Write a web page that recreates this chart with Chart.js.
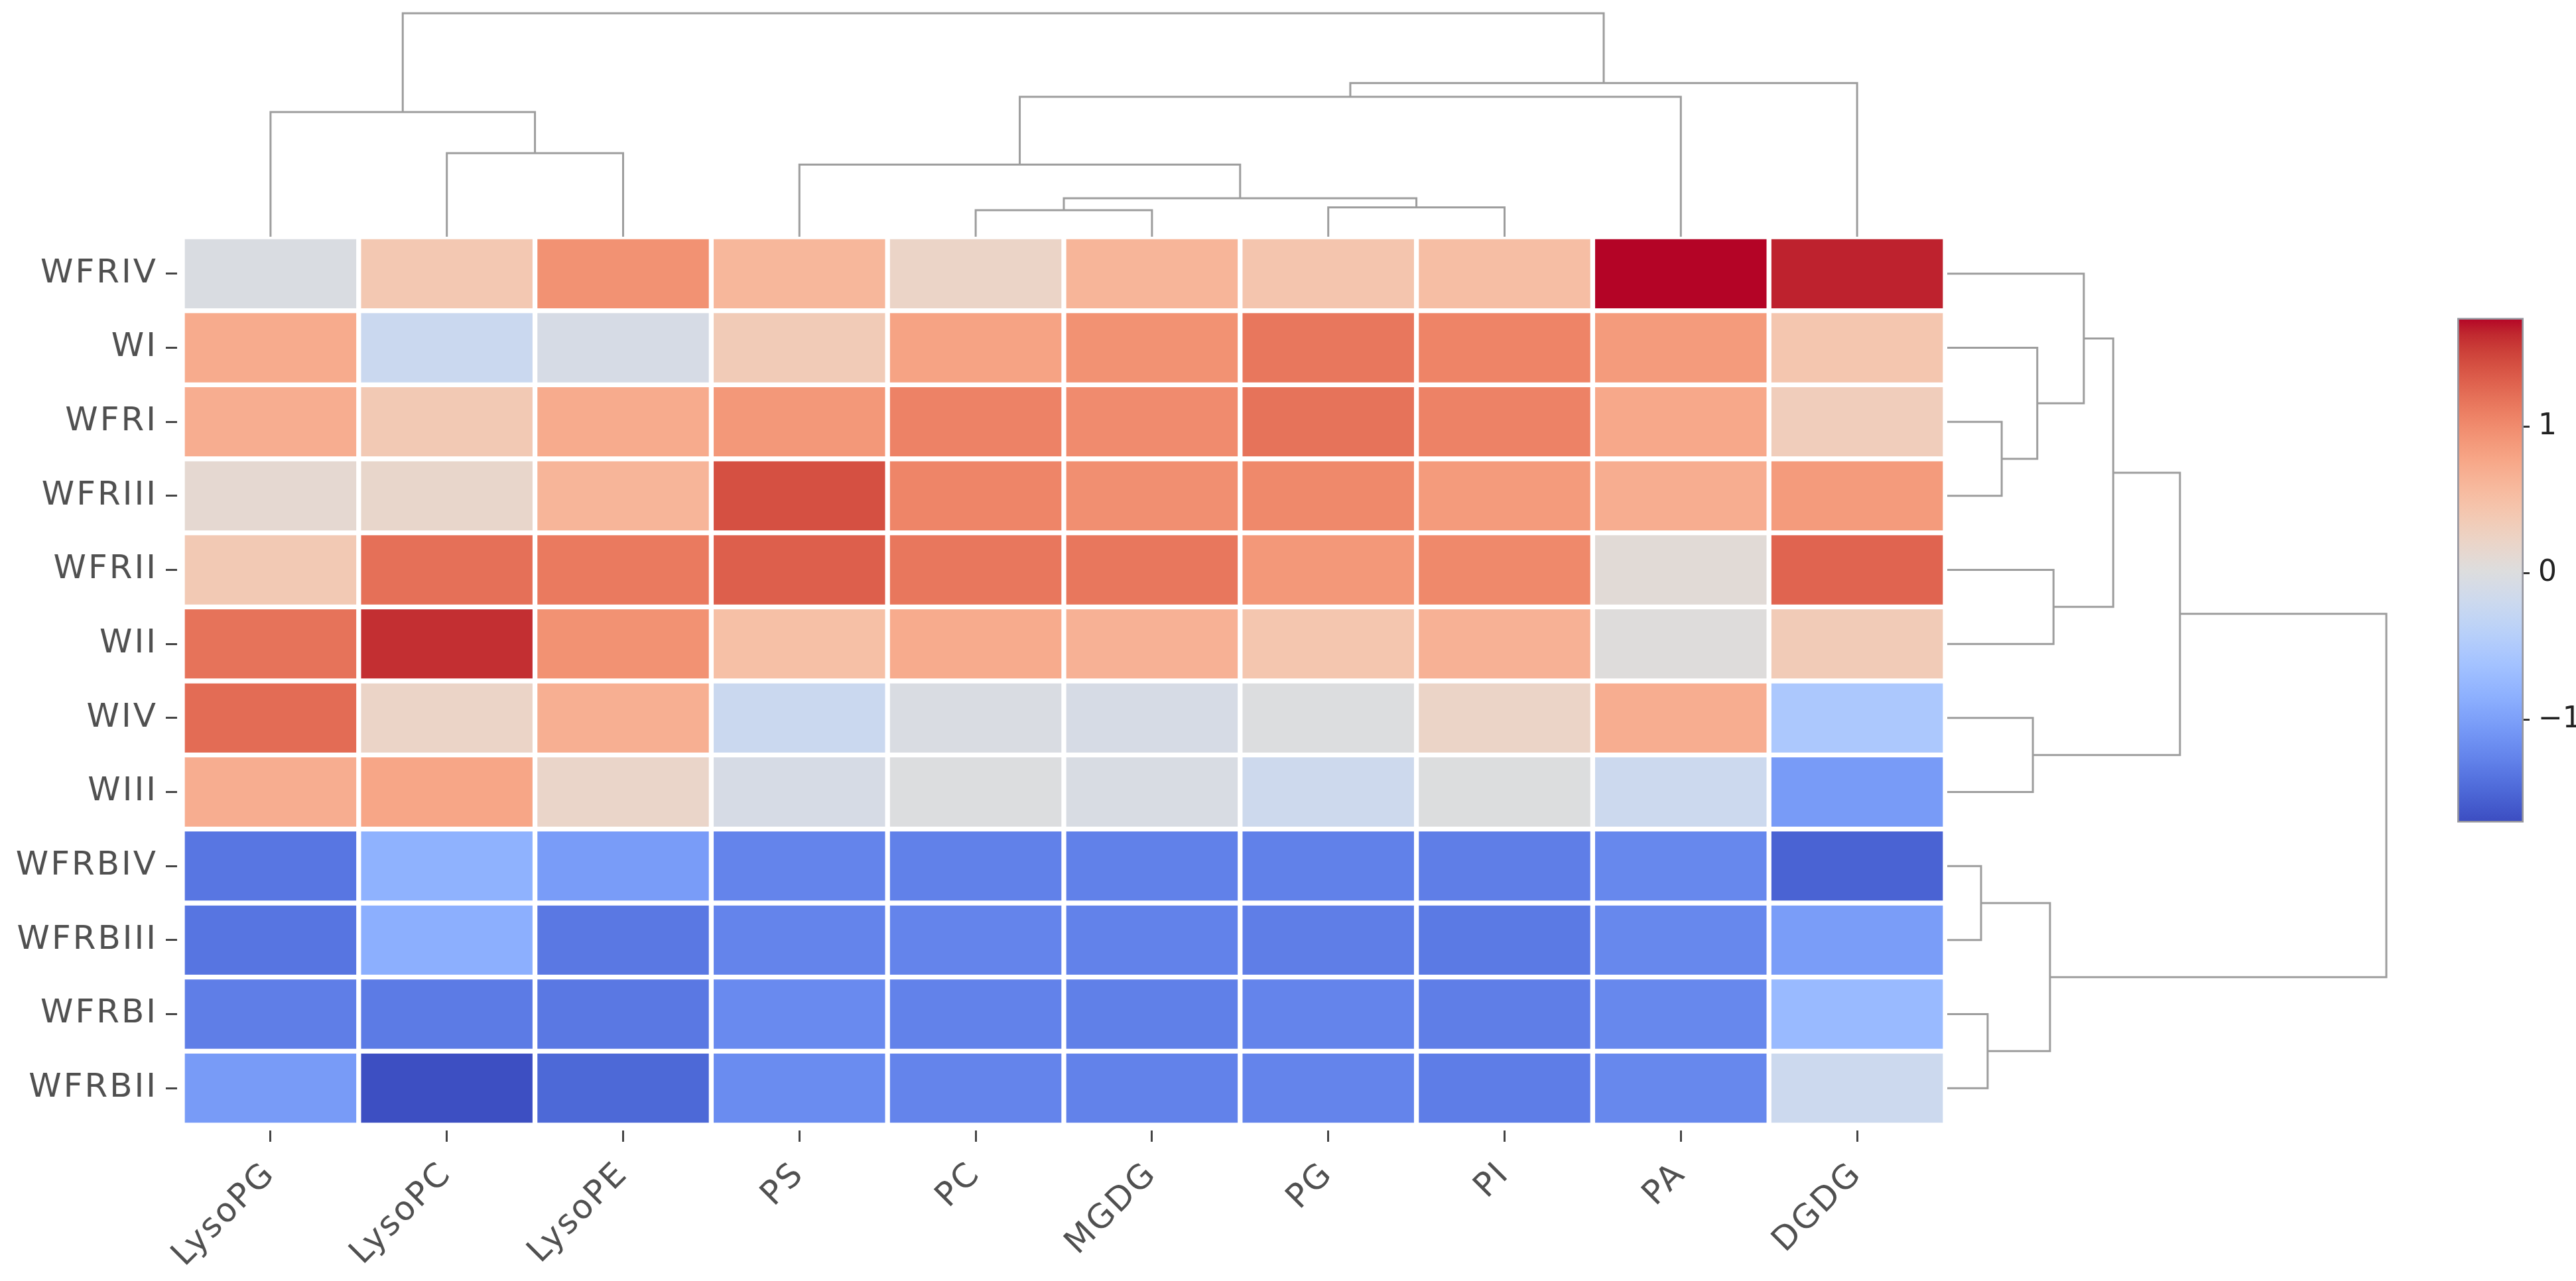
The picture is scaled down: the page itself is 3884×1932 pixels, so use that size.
<!DOCTYPE html>
<html>
<head>
<meta charset="utf-8">
<script src="https://cdn.jsdelivr.net/npm/chart.js@4.4.6/dist/chart.umd.min.js"></script>
<style>
  html, body { margin: 0; padding: 0; background: #fff; }
  body { width: 3884px; height: 1932px; position: relative; overflow: hidden; }
  .box { position: absolute; }
</style>
</head>
<body>
<div class="box" style="left:0;top:0;width:2933px;height:1932px"><canvas id="heat"></canvas></div>
<div class="box" style="left:275px;top:0;width:2658px;height:357px"><canvas id="colDendro"></canvas></div>
<div class="box" style="left:2936px;top:357px;width:948px;height:1340px"><canvas id="rowDendro"></canvas></div>
<div class="box" style="left:3705px;top:440px;width:179px;height:840px"><canvas id="colorbar"></canvas></div>
<script>
// Clustered heatmap: cells are floating bars, dendrograms are scatter lines,
// the colour bar is one floating bar with a gradient fill.

const columns = ['LysoPG', 'LysoPC', 'LysoPE', 'PS', 'PC', 'MGDG', 'PG', 'PI', 'PA', 'DGDG'];
const rows = ['WFRIV', 'WI', 'WFRI', 'WFRIII', 'WFRII', 'WII', 'WIV', 'WIII', 'WFRBIV', 'WFRBIII', 'WFRBI', 'WFRBII'];

// z-scores per row, in column order
const zWFRIV   = [-0.03, 0.40, 0.95, 0.60, 0.22, 0.62, 0.43, 0.52, 1.74, 1.65];
const zWI      = [0.72, -0.22, -0.07, 0.35, 0.80, 0.95, 1.15, 1.06, 0.87, 0.42];
const zWFRI    = [0.70, 0.38, 0.72, 0.90, 1.07, 1.00, 1.18, 1.07, 0.75, 0.32];
const zWFRIII  = [0.13, 0.18, 0.62, 1.42, 1.05, 0.97, 1.02, 0.87, 0.70, 0.87];
const zWFRII   = [0.38, 1.20, 1.13, 1.32, 1.15, 1.15, 0.90, 1.02, 0.08, 1.28];
const zWII     = [1.18, 1.60, 0.95, 0.50, 0.72, 0.66, 0.42, 0.66, 0.04, 0.35];
const zWIV     = [1.23, 0.22, 0.68, -0.22, -0.04, -0.07, 0.00, 0.22, 0.70, -0.54];
const zWIII    = [0.70, 0.77, 0.20, -0.07, 0.00, -0.05, -0.18, 0.01, -0.20, -1.05];
const zWFRBIV  = [-1.37, -0.82, -1.04, -1.25, -1.28, -1.28, -1.28, -1.30, -1.22, -1.52];
const zWFRBIII = [-1.38, -0.85, -1.35, -1.25, -1.25, -1.27, -1.30, -1.34, -1.22, -1.03];
const zWFRBI   = [-1.30, -1.33, -1.35, -1.20, -1.27, -1.29, -1.25, -1.30, -1.22, -0.72];
const zWFRBII  = [-1.05, -1.68, -1.48, -1.18, -1.25, -1.27, -1.25, -1.31, -1.22, -0.20];
const values = [zWFRIV, zWI, zWFRI, zWFRIII, zWFRII, zWII, zWIV, zWIII, zWFRBIV, zWFRBIII, zWFRBI, zWFRBII];

const zMin = -1.70;
const zMax = 1.74;
const colorbarTicks = [-1, 0, 1];

// column dendrogram: each link is a U of 4 points (x = column index, h = distance)
const colLinkX = [
  [1, 1, 2, 2], [0, 0, 1.5, 1.5], [4, 4, 5, 5], [6, 6, 7, 7], [4.5, 4.5, 6.5, 6.5],
  [3, 3, 5.5, 5.5], [4.25, 4.25, 8, 8], [6.125, 6.125, 9, 9], [0.75, 0.75, 7.5625, 7.5625]
];
const colLinkH = [
  [0, 3.74, 3.74, 0], [0, 5.58, 5.58, 3.74], [0, 1.19, 1.19, 0], [0, 1.31, 1.31, 0], [1.19, 1.72, 1.72, 1.31],
  [0, 3.23, 3.23, 1.72], [3.23, 6.26, 6.26, 0], [6.26, 6.88, 6.88, 0], [5.58, 10, 10, 6.88]
];

// row dendrogram: y = row index, h = distance
const rowLinkY = [
  [2, 2, 3, 3], [1, 1, 2.5, 2.5], [0, 0, 1.75, 1.75], [4, 4, 5, 5], [0.875, 0.875, 4.5, 4.5],
  [6, 6, 7, 7], [2.6875, 2.6875, 6.5, 6.5], [8, 8, 9, 9], [10, 10, 11, 11], [8.5, 8.5, 10.5, 10.5],
  [4.59375, 4.59375, 9.5, 9.5]
];
const rowLinkH = [
  [0, 1.24, 1.24, 0], [0, 2.05, 2.05, 1.24], [0, 3.11, 3.11, 2.05], [0, 2.42, 2.42, 0], [3.11, 3.78, 3.78, 2.42],
  [0, 1.95, 1.95, 0], [3.78, 5.30, 5.30, 1.95], [0, 0.77, 0.77, 0], [0, 0.92, 0.92, 0], [0.77, 2.34, 2.34, 0.92],
  [5.30, 10, 10, 2.34]
];

// matplotlib coolwarm (Moreland) table
const COOLWARM = [
  [59,76,192],[68,90,204],[77,104,215],[87,117,225],[98,130,234],[108,142,241],[119,154,247],[130,165,251],
  [141,176,254],[152,185,255],[163,194,255],[174,201,253],[184,208,249],[194,213,244],[204,217,238],[213,219,230],
  [221,221,221],[229,216,209],[236,211,197],[241,204,184],[245,196,172],[247,187,160],[247,177,148],[247,166,135],
  [244,154,123],[241,141,111],[236,127,99],[229,112,88],[222,96,77],[213,80,66],[203,62,56],[192,40,47],[180,4,38]
];

function coolwarm(v){
  let t = (v - zMin) / (zMax - zMin);
  t = Math.max(0, Math.min(1, t));
  const p = t * (COOLWARM.length - 1);
  const i = Math.min(Math.floor(p), COOLWARM.length - 2);
  const f = p - i;
  const a = COOLWARM[i], b = COOLWARM[i + 1];
  const c = a.map((x, k) => Math.round(x + (b[k] - x) * f));
  return `rgb(${c[0]},${c[1]},${c[2]})`;
}

const FONT = 'DejaVu Sans';
const LABEL = '#505050';
const LINE = '#9d9d9d';

// wider label spacing, like the original
const spacing = {
  id: 'spacing',
  beforeLayout(c){ c.ctx.letterSpacing = '3px'; },
  beforeDraw(c){ c.ctx.letterSpacing = '3px'; }
};

const base = {
  responsive: true,
  maintainAspectRatio: false,
  animation: false,
  events: [],
  plugins: { legend: { display: false }, tooltip: { enabled: false } }
};

// heatmap
new Chart(document.getElementById('heat'), {
  type: 'bar',
  data: {
    labels: columns,
    datasets: rows.map((r, i) => ({
      data: columns.map(() => [i - 0.5, i + 0.5]),
      backgroundColor: values[i].map(coolwarm),
      borderColor: '#ffffff',
      borderWidth: 4,
      borderSkipped: false,
      barPercentage: 1,
      categoryPercentage: 1,
      grouped: false
    }))
  },
  options: {
    ...base,
    layout: { padding: { top: 357, left: 0, right: 0, bottom: 0 } },
    scales: {
      x: {
        type: 'category',
        offset: true,
        border: { display: false },
        grid: { offset: false, drawOnChartArea: false, drawTicks: true, tickLength: 25, tickWidth: 3, tickColor: '#444', tickBorderDash: [0, 8, 17, 60] },
        ticks: { minRotation: 45, maxRotation: 45, autoSkip: false, padding: 20, color: LABEL, font: { family: FONT, size: 50 } },
        afterFit(s){ s.height = 235; }
      },
      y: {
        type: 'linear',
        reverse: true,
        min: -0.5,
        max: 11.5,
        border: { display: false },
        grid: { drawOnChartArea: false, drawTicks: true, tickLength: 25, tickWidth: 3, tickColor: '#444', tickBorderDash: [17, 8] },
        ticks: { padding: 12, color: LABEL, font: { family: FONT, size: 50 }, callback: v => rows[v] },
        afterBuildTicks(s){ s.ticks = rows.map((_, i) => ({ value: i })); },
        afterFit(s){ s.width = 275; }
      }
    }
  },
  plugins: [spacing]
});

function dendroSets(pos, hts, posKey, htKey){
  return pos.map((p, k) => ({
    data: p.map((v, j) => ({ [posKey]: v, [htKey]: hts[k][j] })),
    showLine: true,
    borderColor: LINE,
    borderWidth: 3,
    pointRadius: 0,
    tension: 0,
    fill: false,
    clip: false
  }));
}

// column dendrogram (above)
new Chart(document.getElementById('colDendro'), {
  type: 'scatter',
  data: { datasets: dendroSets(colLinkX, colLinkH, 'x', 'y') },
  options: {
    ...base,
    scales: {
      x: { type: 'linear', min: -0.5, max: 9.5, display: false },
      y: { type: 'linear', min: 0, max: 10.593, display: false }
    }
  }
});

// row dendrogram (right)
new Chart(document.getElementById('rowDendro'), {
  type: 'scatter',
  data: { datasets: dendroSets(rowLinkY, rowLinkH, 'y', 'x') },
  options: {
    ...base,
    scales: {
      x: { type: 'linear', min: 0, max: 14.32, display: false },
      y: { type: 'linear', min: -0.5, max: 11.5, reverse: true, display: false }
    }
  }
});

// colour bar
new Chart(document.getElementById('colorbar'), {
  type: 'bar',
  data: {
    labels: [''],
    datasets: [{
      data: [[zMin, zMax]],
      backgroundColor(ctx){
        const c = ctx.chart;
        if(!c.chartArea) return '#dddddd';
        const y = c.scales.y;
        const g = c.ctx.createLinearGradient(0, y.getPixelForValue(zMin), 0, y.getPixelForValue(zMax));
        COOLWARM.forEach((rgb, i) => g.addColorStop(i / (COOLWARM.length - 1), `rgb(${rgb.join(',')})`));
        return g;
      },
      borderColor: 'rgba(80,80,95,0.6)',
      borderWidth: 3,
      borderSkipped: false,
      barPercentage: 1,
      categoryPercentage: 1
    }]
  },
  options: {
    ...base,
    layout: { padding: { top: 37, bottom: 38, left: 0, right: 0 } },
    scales: {
      x: { display: false },
      y: {
        position: 'right',
        min: zMin,
        max: zMax,
        border: { display: false },
        grid: { drawOnChartArea: false, drawTicks: true, tickLength: 9, tickWidth: 3, tickColor: '#333' },
        ticks: { padding: 13, color: '#222', font: { family: FONT, size: 44 }, callback: v => v < 0 ? '\u2212' + Math.abs(v) : String(v) },
        afterBuildTicks(s){ s.ticks = colorbarTicks.map(v => ({ value: v })); },
        afterFit(s){ s.width = 79; }
      }
    }
  }
});
</script>
</body>
</html>
